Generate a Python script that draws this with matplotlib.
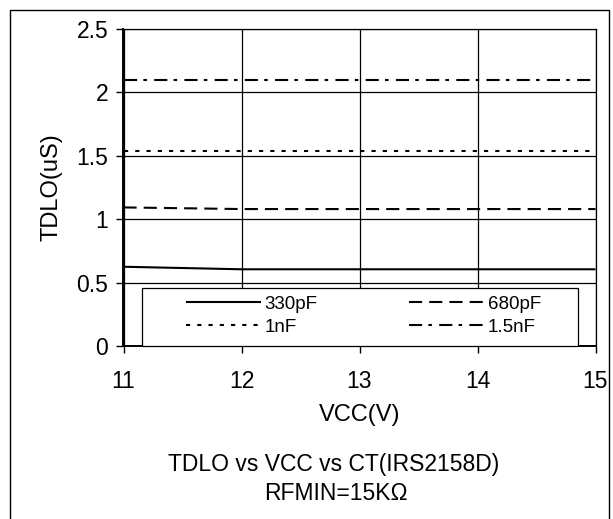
import matplotlib
matplotlib.use("Agg")
import matplotlib.pyplot as plt
from matplotlib.patches import Rectangle

plt.rcParams['font.family'] = ['Liberation Sans', 'DejaVu Sans']

vcc = [11, 12, 13, 14, 15]
series = {
    "330pF": [0.625, 0.605, 0.605, 0.605, 0.605],
    "680pF": [1.093, 1.080, 1.080, 1.080, 1.080],
    "1nF":   [1.54, 1.54, 1.54, 1.54, 1.54],
    "1.5nF": [2.10, 2.10, 2.10, 2.10, 2.10],
}
styles = {
    "330pF": dict(linestyle='-'),
    "680pF": dict(linestyle=(0, (6.3, 3.4))),
    "1nF":   dict(linestyle=(0, (2.0, 3.4))),
    "1.5nF": dict(linestyle=(0, (6.3, 3.0, 1.7, 3.5))),
}
legend_order = ["330pF", "1nF", "680pF", "1.5nF"]  # row-major display in 2 columns
xticks = [11, 12, 13, 14, 15]
yticks = [0, 0.5, 1, 1.5, 2, 2.5]
ytick_labels = ["0", "0.5", "1", "1.5", "2", "2.5"]

W, H = 613, 519
fig = plt.figure(figsize=(W/100, H/100), dpi=100)
ax_l, ax_r, ax_t, ax_b = 123.5, 595.5, 29, 346
ax = fig.add_axes([ax_l/W, 1-ax_b/H, (ax_r-ax_l)/W, (ax_b-ax_t)/H])

lines = {}
for name, vals in series.items():
    ln, = ax.plot(vcc, vals, color='black', linewidth=1.5, label=name,
                  solid_capstyle='butt', dash_capstyle='butt', **styles[name])
    lines[name] = ln

ax.set_xlim(11, 15)
ax.set_ylim(0, 2.5)
ax.set_xticks(xticks)
ax.set_yticks(yticks)
ax.set_yticklabels(ytick_labels)
ax.grid(True, color='black', linewidth=0.9)
ax.set_axisbelow(True)
for s in ax.spines.values():
    s.set_linewidth(0.9)
ax.spines['left'].set_linewidth(1.4)
ax.spines['bottom'].set_linewidth(1.4)
ax.tick_params(axis='x', direction='out', length=5, width=1, labelsize=16.5, pad=12)
ax.tick_params(axis='y', direction='out', length=5, width=1, labelsize=16.5, pad=6)
ax.set_ylabel("TDLO(uS)", fontsize=17, labelpad=10)
ax.set_xlabel("VCC(V)", fontsize=17, labelpad=8)

# legend box
def ax_x(px):
    return (px - ax_l) / (ax_r - ax_l)
def ax_y(py):
    return (ax_b - py) / (ax_b - ax_t)

ax.add_patch(Rectangle((ax_x(142), 0), ax_x(578) - ax_x(142), ax_y(288),
                       transform=ax.transAxes, fill=True, facecolor='white',
                       edgecolor='black', linewidth=0.9, zorder=3, clip_on=False))
leg = ax.legend([lines[n] for n in legend_order], legend_order, ncol=2,
                mode='expand', loc='upper left',
                bbox_to_anchor=(ax_x(186), ax_y(296), ax_x(541) - ax_x(186), 0.001),
                frameon=False, fontsize=13.5, handlelength=4.0, handletextpad=0.2,
                labelspacing=0.3, borderpad=0, borderaxespad=0)
leg.set_zorder(4)

fig.text(334/W, 1-465/H, "TDLO vs VCC vs CT(IRS2158D)", ha='center', va='center', fontsize=16.5)
fig.text(336/W, 1-494/H, "RFMIN=15K\u03a9", ha='center', va='center', fontsize=16.5)

fig.patches.append(Rectangle((10/W, -0.05), (609-10)/W, 1-10/H+0.05,
                             transform=fig.transFigure, fill=False,
                             edgecolor='black', linewidth=1.0))

fig.savefig("out.png", dpi=100)
